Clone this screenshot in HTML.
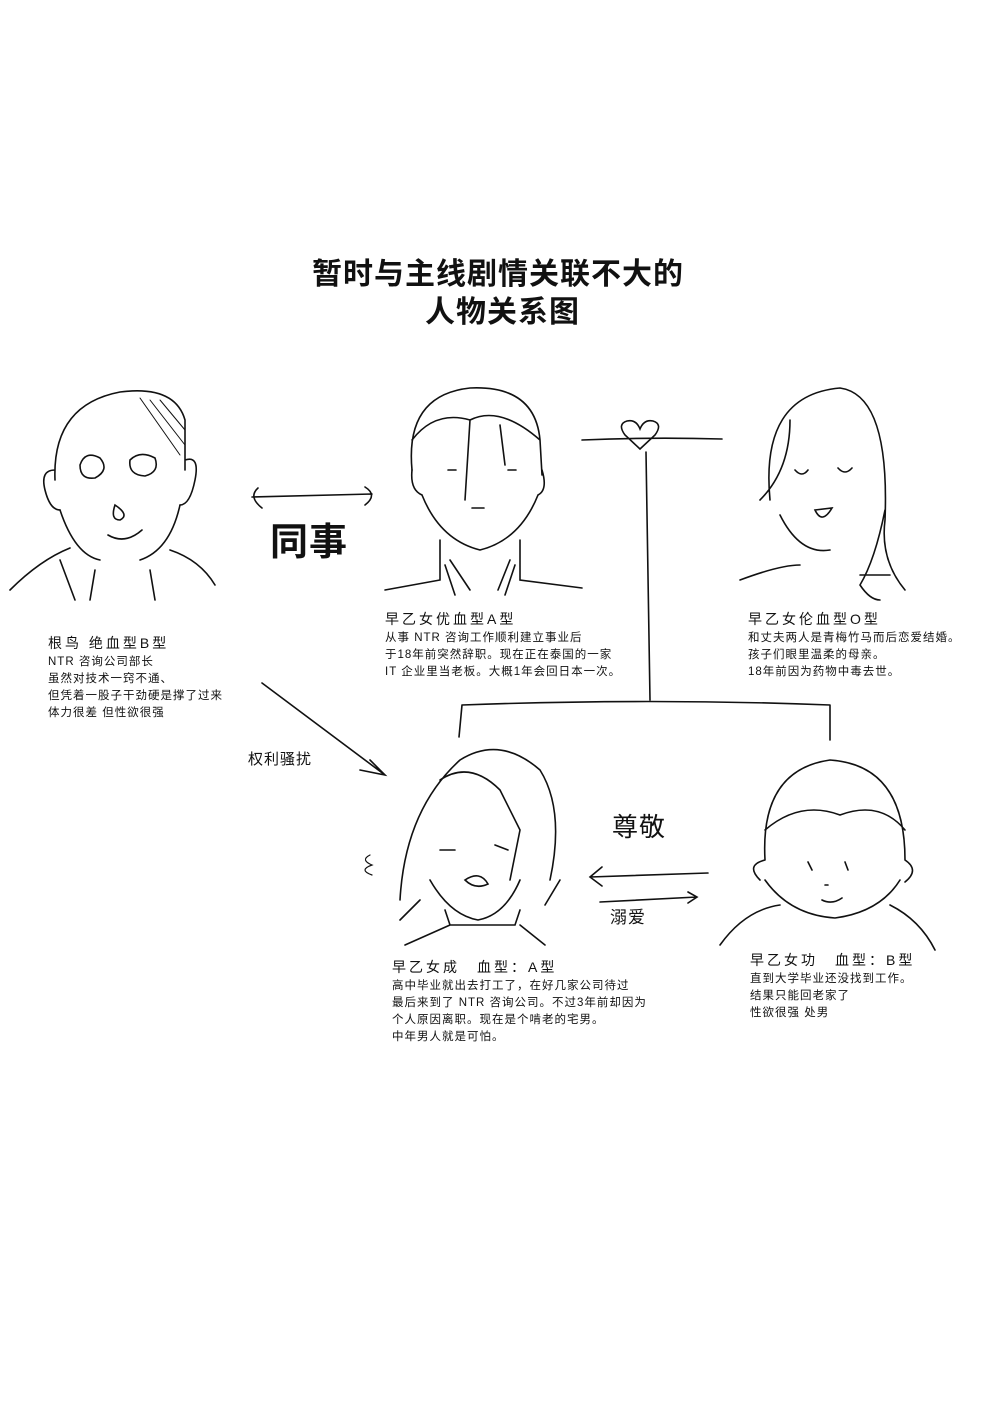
<!DOCTYPE html>
<html><head><meta charset="utf-8"><style>
body{margin:0;background:#fff;}
#c{position:relative;width:1000px;height:1412px;overflow:hidden;background:#fff;font-family:"Liberation Sans","Noto Sans CJK SC",sans-serif;color:#111;}
.t{position:absolute;white-space:nowrap;font-size:11.5px;line-height:17px;letter-spacing:1px;}
.h{font-size:14px;letter-spacing:3px;}
svg{position:absolute;left:0;top:0;}
</style></head><body><div id="c">
<svg width="1000" height="1412" fill="none" stroke="#111" stroke-width="1.6" stroke-linecap="round">
<!-- Nezu -->
<path d="M55 480 Q52 405 120 392 Q175 385 185 420 L185 470 M55 470 Q40 470 45 490 Q50 510 60 510 M185 460 Q200 455 195 480 Q190 505 180 505"/>
<path d="M160 400 L185 430 M150 400 L185 445 M140 398 L180 455" stroke-width="1"/>
<path d="M80 465 Q85 450 100 458 Q110 470 95 478 Q80 480 80 465Z M130 460 Q140 450 155 458 Q160 472 145 476 Q128 475 130 460Z"/>
<path d="M115 505 Q110 520 120 520 Q130 515 115 505Z M108 535 Q125 545 142 530"/>
<path d="M60 510 Q75 555 100 560 M180 505 Q170 550 140 560 M10 590 Q40 560 70 548 M170 550 Q200 560 215 585 M60 560 L75 600 M95 570 L90 600 M150 570 L155 600"/>
<!-- Yuu -->
<path d="M412 470 Q405 395 470 388 Q535 385 540 440 L542 475 M412 440 Q435 410 470 420 Q500 405 540 440 M470 420 L465 500 M500 425 L505 465"/>
<path d="M412 470 Q410 490 422 495 M542 470 Q548 490 538 495 M422 495 Q440 540 480 550 Q520 540 538 495"/>
<path d="M448 470 L456 470 M508 470 L516 470 M472 508 L484 508"/>
<path d="M440 540 L440 580 L385 590 M520 540 L520 580 L582 588 M450 560 L470 590 M510 560 L498 590 M445 565 L455 595 M515 565 L505 595"/>
<!-- Mother -->
<path d="M770 500 Q760 395 840 388 Q890 395 885 520 Q880 560 905 590 M790 420 Q790 470 760 500 M885 510 Q875 560 860 585 Q870 600 880 600"/>
<path d="M795 470 Q802 478 808 470 M838 468 Q845 476 852 468 M815 510 Q822 525 832 508 Z"/>
<path d="M780 515 Q800 555 830 550 M740 580 Q780 565 800 565 M860 575 L890 575"/>
<path d="M640 449 L625 435 Q617 424 627 421 Q636 419 640 429 Q644 419 653 421 Q663 424 655 435 Z"/>
<!-- Lines -->
<path d="M582 440 Q650 437 722 439 M646 452 L650 700 M462 705 Q650 698 830 705 M462 705 L459 737 M830 705 L830 740"/>
<path d="M252 497 L372 494 M258 488 Q248 497 262 508 M365 487 Q378 495 365 505"/>
<path d="M262 683 L385 775 M370 760 L385 775 L360 770"/>
<path d="M590 877 L708 873 M602 867 L590 877 L602 886 M600 902 L697 897 M688 892 L697 897 L688 903"/>
<!-- Sei -->
<path d="M400 900 Q405 810 460 760 Q500 735 540 770 Q565 810 550 880 M440 780 Q470 760 500 790 L520 830 L510 880 M420 900 L400 920 M560 880 L545 905"/>
<path d="M440 850 L455 850 M495 845 L508 850 M465 880 Q480 870 488 884 Q475 890 465 880Z"/>
<path d="M430 880 Q450 915 478 920 Q505 915 520 880 M445 910 L450 925 L515 925 L520 910 M405 945 L450 925 M520 925 L545 945"/>
<path d="M370 855 Q360 860 372 865 Q358 870 372 875" stroke-width="1.2"/>
<!-- Isao -->
<path d="M765 860 Q760 770 830 760 Q905 765 905 860 M765 830 Q800 800 840 815 Q880 800 905 830 M765 860 Q745 865 760 880 M905 860 Q920 870 905 882"/>
<path d="M765 880 Q790 915 835 918 Q880 912 900 880 M720 945 Q745 910 780 905 M890 905 Q920 920 935 950"/>
<path d="M808 862 L812 870 M845 862 L848 870 M825 885 L828 885 M822 900 Q832 905 842 898"/>
</svg>
<div class="t" style="left:312px;top:256px;font-size:30px;font-weight:bold;line-height:38px;letter-spacing:1px;">暂时与主线剧情关联不大的</div>
<div class="t" style="left:425px;top:294px;font-size:30px;font-weight:bold;line-height:38px;letter-spacing:1px;">人物关系图</div>
<div class="t" style="left:270px;top:520px;font-size:38px;line-height:46px;font-weight:bold;">同事</div>
<div class="t" style="left:248px;top:751px;font-size:15px;">权利骚扰</div>
<div class="t" style="left:612px;top:812px;font-size:26px;line-height:30px;">尊敬</div>
<div class="t" style="left:610px;top:907px;font-size:17px;line-height:22px;">溺爱</div>
<div class="t" style="left:48px;top:635px;"><span class="h">根鸟 绝血型B型</span><br>NTR 咨询公司部长<br>虽然对技术一窍不通、<br>但凭着一股子干劲硬是撑了过来<br>体力很差 但性欲很强</div>
<div class="t" style="left:385px;top:611px;"><span class="h">早乙女优血型A型</span><br>从事 NTR 咨询工作顺利建立事业后<br>于18年前突然辞职。现在正在泰国的一家<br>IT 企业里当老板。大概1年会回日本一次。</div>
<div class="t" style="left:748px;top:611px;"><span class="h">早乙女伦血型O型</span><br>和丈夫两人是青梅竹马而后恋爱结婚。<br>孩子们眼里温柔的母亲。<br>18年前因为药物中毒去世。</div>
<div class="t" style="left:392px;top:959px;"><span class="h">早乙女成　血型：A型</span><br>高中毕业就出去打工了，在好几家公司待过<br>最后来到了 NTR 咨询公司。不过3年前却因为<br>个人原因离职。现在是个啃老的宅男。<br>中年男人就是可怕。</div>
<div class="t" style="left:750px;top:952px;"><span class="h">早乙女功　血型：B型</span><br>直到大学毕业还没找到工作。<br>结果只能回老家了<br>性欲很强 处男</div>
</div></body></html>
